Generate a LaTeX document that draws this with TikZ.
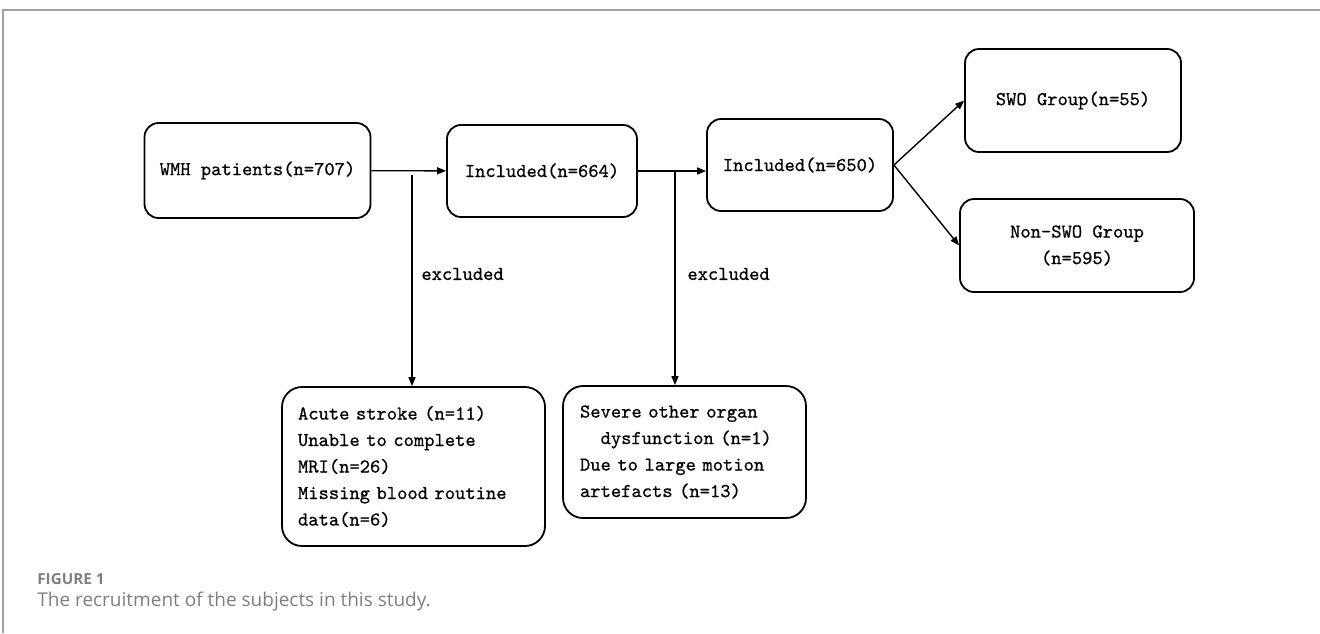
\documentclass[tikz,border=0pt]{standalone}
\usepackage{fontspec}
\newfontfamily\capfont{Open Sans}
\newfontfamily\boxfont{Latin Modern Mono}[FakeBold=0.7]
\usetikzlibrary{arrows.meta}
\newcommand{\boxtext}{\boxfont\fontsize{9.8}{13.25}\selectfont}
\definecolor{capgray}{HTML}{7F7F7F}
\definecolor{framegray}{HTML}{A0A0A0}
\tikzset{
	box/.style={draw,line width=0.9pt,rounded corners=7pt,align=center,font=\boxtext,inner sep=0pt},
	bigbox/.style={box,rounded corners=10pt,align=left,inner xsep=8pt},
	arr/.style={line width=0.7pt,-{Triangle[length=4.5pt,width=3.5pt]}},
	lbl/.style={font=\boxtext,anchor=west,inner sep=0pt}
}
\begin{document}
\begin{tikzpicture}[x=0.5pt,y=-0.5pt]
	\useasboundingbox (0,0) rectangle (1320,633);
	\draw[framegray,line width=0.8pt] (1320,10) -| (3,633);
	\node[box,minimum width=113pt,minimum height=47.5pt] (wmh) at (257.5,170.5) {WMH patients(n=707)};
	\node[box,minimum width=95pt,minimum height=46pt] (inca) at (542,171) {Included(n=664)};
	\node[box,minimum width=93pt,minimum height=46pt] (incb) at (800,165) {Included(n=650)};
	\node[box,minimum width=108pt,minimum height=51.5pt] (swo) at (1073,100.5) {SWO Group(n=55)};
	\node[box,minimum width=117pt,minimum height=46.5pt] (nswo) at (1077,245.5) {Non-SWO Group\\(n=595)};
	\node[bigbox,text width=115.5pt,minimum height=79.5pt] (exa) at (413.5,466.5) {Acute stroke (n=11)\\Unable to complete\\MRI(n=26)\\Missing blood routine\\data(n=6)};
	\node[bigbox,text width=104.5pt,minimum height=66pt,inner xsep=8.5pt] (exb) at (684.5,452) {Severe other organ\\\phantom{xx}dysfunction (n=1)\\Due to large motion\\artefacts (n=13)};
	\coordinate (ea) at (412,175);
	\coordinate (eb) at (675,172);
	\draw[arr] (wmh) -- (inca);
	\draw[arr] (inca.east) -- (inca.east -| incb.west);
	\draw[arr] (ea) -- (ea |- exa.north);
	\draw[arr] (eb) -- (eb |- exb.north);
	\draw[arr] (incb.east) -- (swo.west);
	\draw[arr] (incb.east) -- (nswo.west);
	\node[lbl] (exla) at (421,274) {excluded};
	\node[lbl] (exlb) at (687,274) {excluded};
	\node[anchor=west,inner sep=0pt,text=capgray,font=\capfont\bfseries\fontsize{7.6}{9}\selectfont] (fig) at (37,579.5) {FIGURE 1};
	\node[anchor=west,inner sep=0pt,text=capgray,font=\capfont\fontsize{9.5}{11}\selectfont] (cap) at (37,601) {The recruitment of the subjects in this study.};
\end{tikzpicture}
\end{document}
